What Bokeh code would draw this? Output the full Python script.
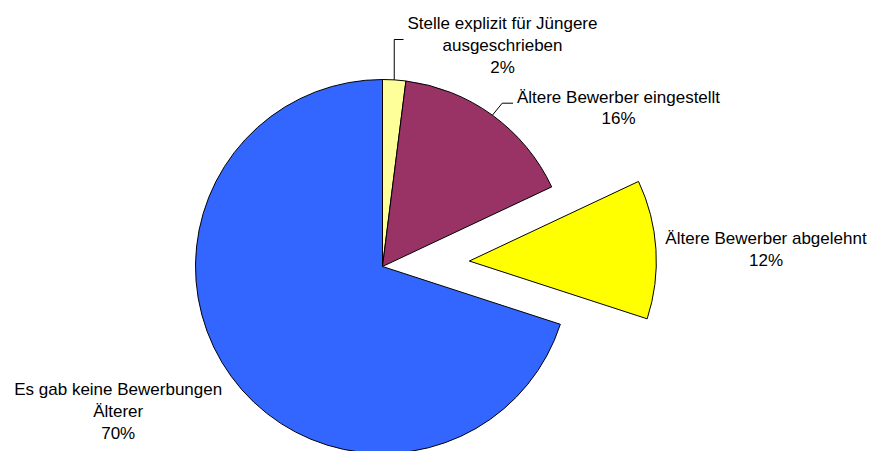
import numpy as np
from bokeh.plotting import figure
from bokeh.models import Range1d
from bokeh.core.properties import value
from bokeh.embed import file_html
from bokeh.resources import INLINE

# ---- data ----
categories = ["Stelle explizit für Jüngere ausgeschrieben",
              "Ältere Bewerber eingestellt",
              "Ältere Bewerber abgelehnt",
              "Es gab keine Bewerbungen Älterer"]
shares = [2, 16, 12, 70]
label_lines = [["Stelle explizit für Jüngere", "ausgeschrieben", "2%"],
               ["Ältere Bewerber eingestellt", "16%"],
               ["Ältere Bewerber abgelehnt", "12%"],
               ["Es gab keine Bewerbungen", "Älterer", "70%"]]
colors = ["#FFFF99", "#993366", "#FFFF00", "#3366FF"]
exploded = [0, 0, 1, 0]

# ---- layout (screen pixel geometry) ----
W, H = 871, 451
OX, OY = 0, 0                      # figure offset on the page
CX, CY, R = 382.0, 266.0, 187.0   # pie center/radius in picture pixels
EXPLODE = 87.0 / R
FONT = value("Liberation Sans")
FSIZE = "17px"


def d(sx, sy):
    return (sx - CX) / R, (CY - sy) / R


x0, y1 = d(OX, OY)
x1, y0 = d(OX + W, OY + H)

p = figure(width=W, height=H, output_backend="svg", toolbar_location=None,
           x_range=Range1d(x0, x1), y_range=Range1d(y0, y1), min_border=0)
p.axis.visible = False
p.grid.visible = False
p.outline_line_color = None
p.background_fill_color = "white"

vals = np.array(shares, dtype=float)
frac = vals / vals.sum()
cum = np.concatenate([[0], np.cumsum(frac)])
starts = np.pi / 2 - cum[:-1] * 2 * np.pi
ends = np.pi / 2 - cum[1:] * 2 * np.pi
mids = (starts + ends) / 2
xs = [EXPLODE * np.cos(m) * e for m, e in zip(mids, exploded)]
ys = [EXPLODE * np.sin(m) * e for m, e in zip(mids, exploded)]

p.wedge(x=xs, y=ys, radius=1.0, start_angle=list(starts), end_angle=list(ends),
        direction="clock", fill_color=colors, line_color="black", line_width=1)

# leader lines
m0 = mids[0]
ex, ey = np.cos(m0), np.sin(m0)
lx = [ex, ex, d(403, 0)[0]]
ly = [ey, d(0, 39)[1], d(0, 39)[1]]
p.line(lx, ly, line_color="black", line_width=1)

m1 = mids[1]
ex, ey = np.cos(m1), np.sin(m1)
lx = [ex, d(501.7, 0)[0], d(512.5, 0)[0]]
ly = [ey, d(0, 102.7)[1], d(0, 102.7)[1]]
p.line(lx, ly, line_color="black", line_width=1)

# labels (center x, first baseline y) in picture pixels
label_pos = [(502, 23.3), (618, 96.7), (765.5, 238.3), (117.7, 389.3)]
LINE_H = 21.7
tx, ty, tt = [], [], []
for (sx, sy), lines in zip(label_pos, label_lines):
    for i, t in enumerate(lines):
        a, b = d(sx, sy + i * LINE_H)
        tx.append(a)
        ty.append(b)
        tt.append(t)
p.text(x=tx, y=ty, text=tt, text_align="center", text_baseline="alphabetic",
       text_font=FONT, text_font_size=FSIZE, text_color="black")

open("out.html", "w").write(file_html(p, INLINE))
